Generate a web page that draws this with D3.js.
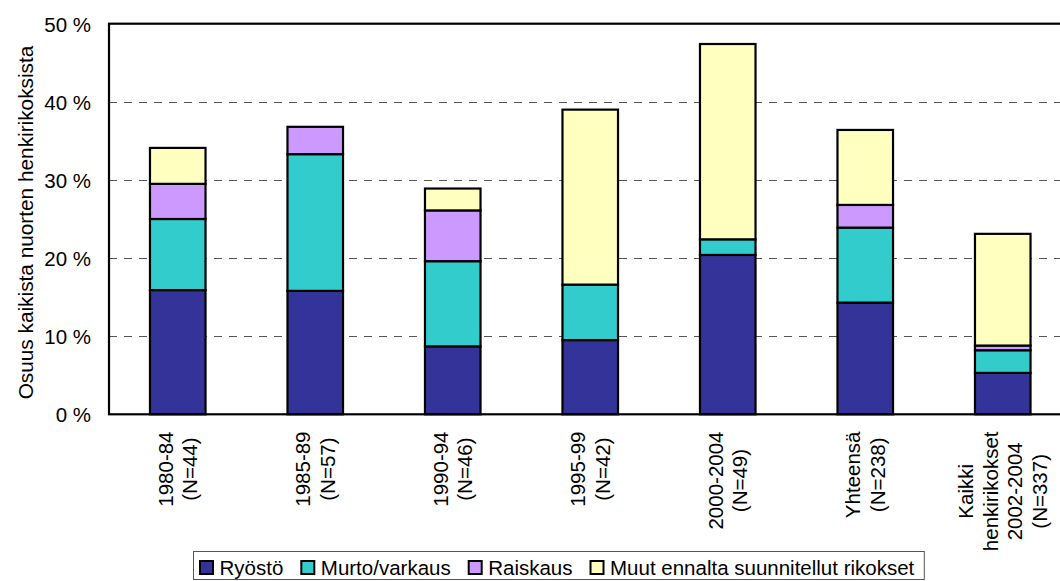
<!DOCTYPE html>
<html>
<head>
<meta charset="utf-8">
<script src="https://cdn.jsdelivr.net/npm/d3@7/dist/d3.min.js"></script>
<style>
  html, body { margin: 0; padding: 0; background: #fff; }
  svg { display: block; font-family: "Liberation Sans", Arial, sans-serif; }
</style>
</head>
<body>
<svg id="chart" width="1060" height="581"></svg>
<script>
// ---- Data ----
const categories = [
  ["1980-84", "(N=44)"],
  ["1985-89", "(N=57)"],
  ["1990-94", "(N=46)"],
  ["1995-99", "(N=42)"],
  ["2000-2004", "(N=49)"],
  ["Yhteensä", "(N=238)"],
  ["Kaikki", "henkirikokset", "2002-2004", "(N=337)"]
];
const seriesNames = ["Ryöstö", "Murto/varkaus", "Raiskaus", "Muut ennalta suunnitellut rikokset"];
const ryosto   = [15.9, 15.8, 8.7, 9.5, 20.4, 14.3, 5.3];
const murto    = [9.1, 17.5, 10.9, 7.1, 2.0, 9.6, 2.9];
const raiskaus = [4.5, 3.5, 6.5, 0, 0, 2.9, 0.6];
const muut     = [4.6, 0, 2.8, 22.4, 25.0, 9.6, 14.3];
const yTicks = [0, 10, 20, 30, 40, 50];
const yTitle = "Osuus kaikista nuorten henkirikoksista";
const colors = ["#333399", "#33CCCC", "#CC99FF", "#FFFFC0"];

// ---- Layout ----
const svg = d3.select("#chart");
const W = 1060, H = 581;
const plot = { left: 109, top: 23.7, right: 1071.5, bottom: 414.3 };
const fs = 20.5;

const keys = categories.map((c, i) => "c" + i);
const x = d3.scaleBand().domain(keys).range([plot.left, plot.right])
  .paddingInner(0.596).paddingOuter(0.298);
const y = d3.scaleLinear().domain([0, 50]).range([plot.bottom, plot.top]);

const rows = keys.map((k, i) => ({
  key: k,
  s0: ryosto[i], s1: murto[i], s2: raiskaus[i], s3: muut[i]
}));
const stack = d3.stack().keys(["s0", "s1", "s2", "s3"]);
const stacked = stack(rows);

// gridlines
svg.append("g").selectAll("line")
  .data(yTicks.filter(t => t > 0 && t < 50))
  .join("line")
  .attr("x1", plot.left).attr("x2", W)
  .attr("y1", d => Math.round(y(d)) + 0.5).attr("y2", d => Math.round(y(d)) + 0.5)
  .attr("stroke", "#555").attr("stroke-width", 1)
  .attr("stroke-dasharray", "8,7");

// bars
const gBars = svg.append("g");
stacked.forEach((layer, si) => {
  gBars.append("g").selectAll("rect")
    .data(layer.filter(d => d[1] - d[0] > 0))
    .join("rect")
    .attr("x", d => x(d.data.key))
    .attr("width", x.bandwidth())
    .attr("y", d => y(d[1]))
    .attr("height", d => y(d[0]) - y(d[1]))
    .attr("fill", colors[si])
    .attr("stroke", "#000")
    .attr("stroke-width", 2.2);
});

// plot frame
svg.append("rect")
  .attr("x", plot.left).attr("y", plot.top)
  .attr("width", plot.right - plot.left + 20).attr("height", plot.bottom - plot.top)
  .attr("fill", "none").attr("stroke", "#000").attr("stroke-width", 2.2);

// y axis labels via d3 axis
const yAxis = d3.axisLeft(y).tickValues(yTicks).tickSize(0).tickPadding(0)
  .tickFormat(d => d + " %");
const gy = svg.append("g").attr("transform", `translate(${plot.left - 18},0)`).call(yAxis);
gy.select(".domain").remove();
gy.selectAll("text").attr("font-size", fs).attr("fill", "#000")
  .attr("font-family", "Liberation Sans, Arial, sans-serif").attr("dy", "0.36em");

// y title
svg.append("text")
  .attr("transform", `translate(33,222.5) rotate(-90)`)
  .attr("text-anchor", "middle")
  .attr("font-size", 20.8)
  .text(yTitle);

// x labels
const lh = 24.5;
const gx = svg.append("g");
categories.forEach((lines, i) => {
  const cx = x(keys[i]) + x.bandwidth() / 2;
  const g = gx.append("g");
  const texts = lines.map(l => g.append("text").attr("font-size", fs).attr("text-anchor", "middle").text(l));
  const maxW = d3.max(texts, t => t.node().getComputedTextLength());
  const cy = 431.5 + maxW / 2;
  g.attr("transform", `translate(${cx},${cy}) rotate(-90)`);
  const n = lines.length;
  texts.forEach((t, j) => {
    t.attr("x", 0).attr("y", (j - (n - 1) / 2) * lh + 0.36 * fs);
  });
});

// legend
const leg = svg.append("g");
const legBox = leg.append("rect")
  .attr("x", 193.5).attr("y", 551.5).attr("height", 28)
  .attr("fill", "#fff").attr("stroke", "#555").attr("stroke-width", 1);
let lx = 200;
seriesNames.forEach((name, i) => {
  leg.append("rect").attr("x", lx).attr("y", 561).attr("width", 13).attr("height", 13)
    .attr("fill", colors[i]).attr("stroke", "#000").attr("stroke-width", 2);
  const t = leg.append("text").attr("x", lx + 19.5).attr("y", 575)
    .attr("font-size", fs).text(name);
  const w = t.node().getComputedTextLength();
  lx = lx + 19.5 + w + 18;
});
legBox.attr("width", Math.max(0, lx - 18 + 10 - 193.5));
</script>
</body>
</html>
